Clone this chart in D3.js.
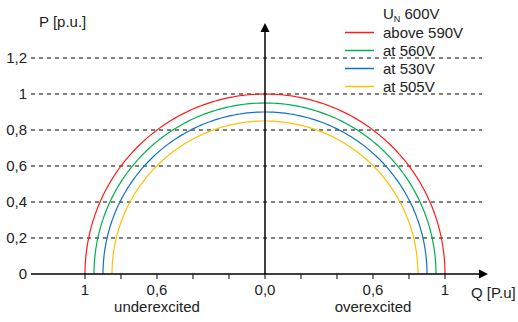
<!DOCTYPE html>
<html>
<head>
<meta charset="utf-8">
<script src="https://cdn.jsdelivr.net/npm/d3@7"></script>
<style>
  body { margin: 0; background: #fff; }
  svg text { font-family: "Liberation Sans", Arial, sans-serif; fill: #222; font-size: 15px; }
</style>
</head>
<body>
<div id="chart"></div>
<script>
var width = 518,
    height = 322;

// data
var series = ["above 590V", "at 560V", "at 530V", "at 505V"];
var radii = [1.0, 0.95, 0.9, 0.85];   // P/Q capability radius in p.u.
var colours = ["#ff1a1a", "#00b050", "#0f74c8", "#ffc000"];
var yTicks = [0, 0.2, 0.4, 0.6, 0.8, 1, 1.2];
var xTicks = [-1, -0.8, -0.6, -0.4, -0.2, 0, 0.2, 0.4, 0.6, 0.8, 1];
var xLabelTicks = [-1, -0.6, 0, 0.6, 1];

var svg = d3.select("#chart")
    .append("svg")
    .attr("width", width)
    .attr("height", height);

var x = d3.scaleLinear().domain([-1, 1]).range([85, 445]);
var y = d3.scaleLinear().domain([0, 1]).range([274, 94]);

var fmt = function(v) {
    var a = Math.abs(v);
    if (v === 0) return "0,0";
    if (a === 1) return "1";
    return d3.format(".1f")(a).replace(".", ",");
};

// dashed grid
svg.append("g")
    .selectAll("line")
    .data(yTicks.filter(function(d) { return d > 0; }))
    .enter().append("line")
    .attr("x1", 31)
    .attr("x2", 482)
    .attr("y1", function(d) { return y(d); })
    .attr("y2", function(d) { return y(d); })
    .style("stroke", "#555")
    .style("stroke-width", 1.6)
    .style("stroke-dasharray", "4,4");

// y labels
svg.append("g")
    .selectAll("text")
    .data(yTicks)
    .enter().append("text")
    .attr("x", 27)
    .attr("y", function(d) { return y(d) + 5; })
    .attr("text-anchor", "end")
    .text(function(d) { return d === 0 || d === 1 ? d : String(d).replace(".", ","); });

// curves
var angles = d3.range(0, 181, 1).map(function(a) { return a * Math.PI / 180; });
var line = d3.line()
    .x(function(d) { return x(d[0]); })
    .y(function(d) { return y(d[1]); });

svg.append("g")
    .selectAll("path")
    .data(radii)
    .enter().append("path")
    .attr("d", function(r) {
        return line(angles.map(function(a) { return [r * Math.cos(a), r * Math.sin(a)]; }));
    })
    .style("fill", "none")
    .style("stroke", function(d, i) { return colours[i]; })
    .style("stroke-width", 1.2);

// x axis
svg.append("line")
    .attr("x1", 31).attr("x2", 482)
    .attr("y1", y(0)).attr("y2", y(0))
    .style("stroke", "#000").style("stroke-width", 1.5);
svg.append("path")
    .attr("d", "M488," + y(0) + "L479," + (y(0) - 4.5) + "L479," + (y(0) + 4.5) + "Z")
    .style("fill", "#000");

svg.append("g")
    .selectAll("line")
    .data(xTicks)
    .enter().append("line")
    .attr("x1", function(d) { return x(d); })
    .attr("x2", function(d) { return x(d); })
    .attr("y1", y(0))
    .attr("y2", y(0) + 5)
    .style("stroke", "#000")
    .style("stroke-width", 1);

svg.append("g")
    .selectAll("text")
    .data(xLabelTicks)
    .enter().append("text")
    .attr("x", function(d) { return x(d); })
    .attr("y", 295)
    .attr("text-anchor", "middle")
    .text(fmt);

// y axis
svg.append("line")
    .attr("x1", x(0)).attr("x2", x(0))
    .attr("y1", y(0)).attr("y2", 30)
    .style("stroke", "#000").style("stroke-width", 1.5);
svg.append("path")
    .attr("d", "M" + x(0) + ",23L" + (x(0) - 4.5) + ",32L" + (x(0) + 4.5) + ",32Z")
    .style("fill", "#000");

svg.append("text").attr("x", 39).attr("y", 27).text("P [p.u.]");
svg.append("text").attr("x", 471).attr("y", 298).text("Q [P.u]");
svg.append("text").attr("x", x(-0.6)).attr("y", 312).attr("text-anchor", "middle").text("underexcited");
svg.append("text").attr("x", x(0.6)).attr("y", 312).attr("text-anchor", "middle").text("overexcited");

// legend
var legend = svg.append("g");
var title = legend.append("text").attr("x", 383).attr("y", 19);
title.append("tspan").text("U");
title.append("tspan").attr("dy", 3).style("font-size", "9px").text("N");
title.append("tspan").attr("dy", -3).text(" 600V");

var items = legend.selectAll("g.item")
    .data(series)
    .enter().append("g")
    .attr("class", "item")
    .attr("transform", function(d, i) { return "translate(0," + (32.5 + i * 18) + ")"; });
items.append("line")
    .attr("x1", 345).attr("x2", 374)
    .style("stroke", function(d, i) { return colours[i]; })
    .style("stroke-width", 1.5);
items.append("text")
    .attr("x", 383).attr("y", 5)
    .text(function(d) { return d; });
</script>
</body>
</html>
